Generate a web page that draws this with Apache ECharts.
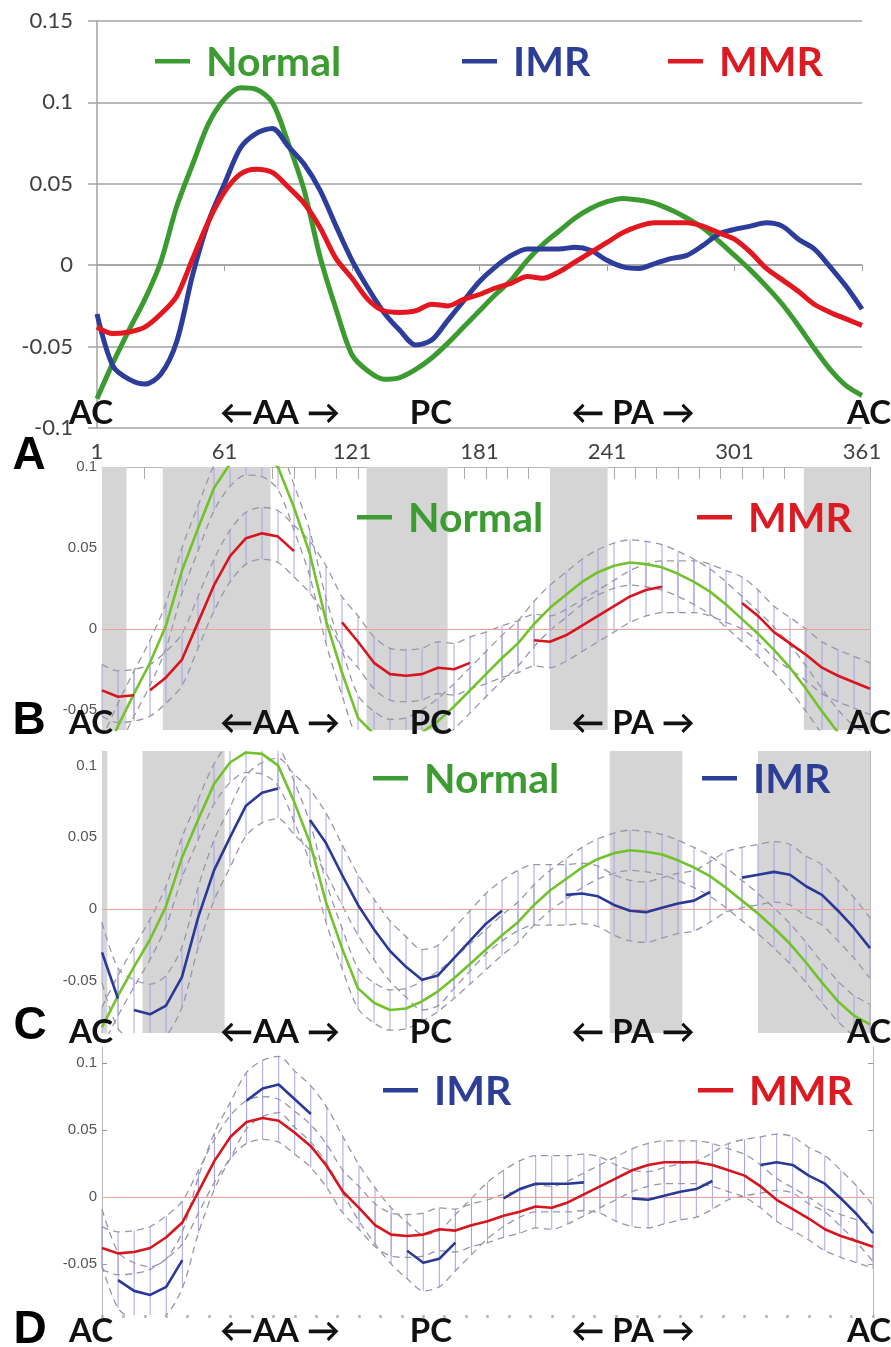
<!DOCTYPE html>
<html>
<head>
<meta charset="utf-8">
<title>Normal / IMR / MMR</title>
<script src="https://cdn.jsdelivr.net/npm/echarts@6/dist/echarts.min.js"></script>
<style>
  html, body { margin: 0; padding: 0; background: #fff; }
  #chart { width: 891px; height: 1347px; }
</style>
</head>
<body>
<div id="chart"></div>
<script>
// 采样位置（1..361）
const xs = [1, 8.5, 16, 23.5, 31, 38.5, 46, 53.5, 61, 68.5, 76, 83.5, 91, 98.5, 106, 113.5,
  121, 128.5, 136, 143.5, 151, 158.5, 166, 173.5, 181, 188.5, 196, 203.5, 211, 218.5, 226,
  233.5, 241, 248.5, 256, 263.5, 271, 278.5, 286, 293.5, 301, 308.5, 316, 323.5, 331, 338.5,
  346, 353.5, 361]

const normal = [-0.082, -0.060, -0.040, -0.021, 0.002, 0.036, 0.062, 0.087, 0.102, 0.109, 0.108,
  0.100, 0.075, 0.046, 0.005, -0.027, -0.055, -0.065, -0.070, -0.069, -0.064, -0.057, -0.048,
  -0.038, -0.028, -0.018, -0.009, 0.003, 0.013, 0.021, 0.029, 0.035, 0.039, 0.041, 0.040, 0.038,
  0.034, 0.029, 0.023, 0.015, 0.006, -0.003, -0.013, -0.024, -0.037, -0.051, -0.064, -0.074, -0.080]

const imr = [-0.030, -0.062, -0.070, -0.073, -0.067, -0.047, -0.006, 0.027, 0.050, 0.072, 0.081,
  0.084, 0.073, 0.062, 0.046, 0.024, 0.003, -0.014, -0.029, -0.040, -0.049, -0.046, -0.034,
  -0.022, -0.010, -0.001, 0.006, 0.010, 0.010, 0.010, 0.011, 0.009, 0.003, -0.001, -0.002, 0.001,
  0.004, 0.006, 0.012, 0.019, 0.022, 0.024, 0.026, 0.024, 0.016, 0.010, -0.001, -0.013, -0.027]

const mmr = [-0.038, -0.042, -0.041, -0.038, -0.030, -0.019, 0.004, 0.027, 0.045, 0.056, 0.059,
  0.057, 0.048, 0.038, 0.023, 0.004, -0.008, -0.021, -0.028, -0.029, -0.028, -0.024, -0.025,
  -0.021, -0.018, -0.014, -0.011, -0.007, -0.008, -0.004, 0.002, 0.008, 0.014, 0.020, 0.024,
  0.026, 0.026, 0.026, 0.024, 0.020, 0.016, 0.008, -0.002, -0.009, -0.016, -0.024, -0.029, -0.033, -0.037]

// 置信带半宽
const normalBand = 0.014
const imrBand = 0.021
const mmrBand = 0.016

// 均值曲线的显示区段
const segB_MMR = [[1, 17], [23, 92], [109, 175], [200, 268], [298, 361]]
const segC_IMR = [[1, 9], [14, 84], [98, 192], [214, 286], [297, 361]]
const segD_IMR = [[6, 42], [68, 101], [143, 167], [185, 230], [247, 289], [307, 361]]

// 灰色阴影区间
const shadeB = [[1, 12.5], [29.5, 80], [125, 163], [211, 238], [330, 361]]
const shadeC = [[1, 3.5], [20, 58.5], [239, 273], [308.5, 361]]

// 刻度
const xLabelsA = [1, 61, 121, 181, 241, 301, 361]
const xTicks = [1, 11, 21, 31, 41, 51, 61, 71, 81, 91, 101, 111, 121, 131, 141, 151, 161, 171, 181,
  191, 201, 211, 221, 231, 241, 251, 261, 271, 281, 291, 301, 311, 321, 331, 341, 351, 361]
const yTicks = [-0.05, 0, 0.05, 0.1]

const regionNames = ['AC', '←AA →', 'PC', '← PA →', 'AC']
const panelLetters = ['A', 'B', 'C', 'D']

const COL = {
  normalA: '#3b9a30', imrA: '#2c3d9b', mmrA: '#e3171f',
  normal: '#72c22c', imr: '#2a3995', mmr: '#d8141c',
  Normal: '#3c9c31', IMR: '#2d3e97', MMR: '#dc1a22'
}
const FONT = "Lato, 'Open Sans', 'DejaVu Sans', sans-serif"
const NARROW = "'Liberation Sans Narrow', 'Liberation Sans', sans-serif"

const pts = (ys) => xs.map((x, i) => [x, ys[i]])
const bound = (ys, w) => xs.map((x, i) => [x, ys[i] + w])
const hatch = (ys, w) => xs.map((x, i) => [x, ys[i] - w, ys[i] + w])
const pieces = (ys, segs) => segs.map(([a, b]) => pts(ys).filter(p => p[0] >= a && p[0] <= b))
const fmt = (v) => String(Math.round(v * 1000) / 1000)

const chart = echarts.init(document.getElementById('chart'))

function hatchItem(params, api) {
  const cs = params.coordSys
  const x = api.value(0)
  const a = api.coord([x, api.value(1)])
  const b = api.coord([x, api.value(2)])
  const top = cs.y, bot = cs.y + cs.height
  const y1 = Math.min(Math.max(a[1], top), bot)
  const y2 = Math.min(Math.max(b[1], top), bot)
  if (y1 === y2) return null
  return {
    type: 'line',
    shape: { x1: a[0], y1: y1, x2: b[0], y2: y2 },
    style: { stroke: '#a4a4ea', lineWidth: 1 }
  }
}

// 阴影和零线挂在一条透明线上
function host(g, ys, shades) {
  const s = {
    type: 'line', xAxisIndex: g, yAxisIndex: g, data: pts(ys), symbol: 'none', silent: true, z: 1,
    lineStyle: { opacity: 0 },
    markLine: {
      silent: true, symbol: 'none', label: { show: false },
      lineStyle: { color: '#f2a29a', type: 'solid', width: 1, opacity: 1 },
      data: [{ yAxis: 0 }]
    }
  }
  if (shades.length) {
    s.markArea = {
      silent: true, itemStyle: { color: '#d5d5d5' },
      data: shades.map(([a, b]) => [{ xAxis: a }, { xAxis: b }])
    }
  }
  return s
}

function dashed(g, data) {
  return {
    type: 'line', xAxisIndex: g, yAxisIndex: g, data, symbol: 'none', silent: true, z: 3,
    smooth: 0.3, lineStyle: { color: '#9797aa', width: 1.3, type: [7, 5] }
  }
}

function bandSet(g, ys, w) {
  return [
    {
      type: 'custom', xAxisIndex: g, yAxisIndex: g, data: hatch(ys, w), renderItem: hatchItem,
      encode: { x: 0, y: [1, 2] }, silent: true, z: 2
    },
    dashed(g, bound(ys, w)),
    dashed(g, bound(ys, -w))
  ]
}

function mean(g, name, data, color) {
  return {
    type: 'line', name, xAxisIndex: g, yAxisIndex: g, data, symbol: 'none', silent: true, z: 5,
    lineStyle: { color, width: 2.6 }
  }
}

function lineA(name, ys, color) {
  return {
    type: 'line', name, xAxisIndex: 0, yAxisIndex: 0, data: pts(ys), symbol: 'none', smooth: 0.3,
    silent: true, z: 5, lineStyle: { color, width: 5 }
  }
}

function sideY(g, min, max, pos) {
  return {
    type: 'value', gridIndex: g, min, max, position: pos,
    axisLine: { show: true, onZero: false, lineStyle: { color: '#b8b8b8', width: 1 } },
    axisTick: { show: true, inside: true, length: 5, customValues: yTicks, lineStyle: { color: '#999' } },
    axisLabel: {
      show: pos === 'left', customValues: yTicks, margin: 5, fontSize: 15, color: '#555',
      fontFamily: NARROW, formatter: fmt
    },
    splitLine: { show: false }
  }
}

const xBase = { type: 'value', min: 1, max: 361, splitLine: { show: false } }

const series = [
  lineA('Normal', normal, COL.normalA),
  lineA('IMR', imr, COL.imrA),
  lineA('MMR', mmr, COL.mmrA),

  host(1, mmr, shadeB),
  ...bandSet(1, normal, normalBand),
  ...bandSet(1, mmr, mmrBand),
  mean(1, 'Normal', pts(normal), COL.normal),
  ...pieces(mmr, segB_MMR).map(d => mean(1, 'MMR', d, COL.mmr)),

  host(2, imr, shadeC),
  ...bandSet(2, normal, normalBand),
  ...bandSet(2, imr, imrBand),
  mean(2, 'Normal', pts(normal), COL.normal),
  ...pieces(imr, segC_IMR).map(d => mean(2, 'IMR', d, COL.imr)),

  host(3, mmr, []),
  ...bandSet(3, imr, imrBand),
  ...bandSet(3, mmr, mmrBand),
  mean(3, 'MMR', pts(mmr), COL.mmr),
  ...pieces(imr, segD_IMR).map(d => mean(3, 'IMR', d, COL.imr))
]

// 文字
const graphic = []
function text(x, y, str, size, color, family, align) {
  graphic.push({
    type: 'text', x, y, silent: true, z: 10,
    style: {
      text: str, fill: color, font: 'bold ' + size + 'px ' + family,
      textAlign: align || 'center', textVerticalAlign: 'middle'
    }
  })
}
function key(x, y, name) {
  graphic.push({ type: 'rect', silent: true, z: 10, shape: { x, y: y - 2, width: 35, height: 4.5 }, style: { fill: COL[name] } })
  text(x + 51, y + 2, name, 41, COL[name], FONT, 'left')
}

key(155, 61, 'Normal'); key(462, 61, 'IMR'); key(668, 61, 'MMR')
key(357, 517, 'Normal'); key(697, 517, 'MMR')
key(373, 778, 'Normal'); key(702, 778, 'IMR')
key(383, 1090, 'IMR'); key(698, 1090, 'MMR')

const regionX = [91, 280, 431, 633, 869]
const regionY = [412, 722, 1031, 1330]
regionY.forEach(y => regionNames.forEach((t, i) => text(regionX[i], y + 1, t, 33, '#111', FONT)))

const letterPos = [[29, 456], [29, 721], [30, 1026], [30, 1330]]
panelLetters.forEach((t, i) => text(letterPos[i][0], letterPos[i][1], t, 46, '#000', "'Liberation Sans', Arial, sans-serif"))

chart.setOption({
  animation: false,
  backgroundColor: '#fff',
  grid: [
    { left: 97, top: 21, width: 765, height: 407 },
    { left: 102, top: 467, width: 768, height: 263 },
    { left: 102, top: 751, width: 768, height: 282 },
    { left: 102, top: 1047, width: 771, height: 268 }
  ],
  xAxis: [
    {
      ...xBase, gridIndex: 0, position: 'bottom',
      axisLine: { show: false, onZero: false }, axisTick: { show: false },
      axisLabel: { customValues: xLabelsA, margin: 13, fontSize: 22, color: '#404040', fontFamily: FONT }
    },
    {
      ...xBase, gridIndex: 1, position: 'top',
      axisLine: { show: true, onZero: false, lineStyle: { color: '#b8b8b8' } },
      axisTick: { show: true, inside: true, length: 12, customValues: xTicks, lineStyle: { color: '#aaa' } },
      axisLabel: { show: false }
    },
    {
      ...xBase, gridIndex: 2, position: 'bottom',
      axisLine: { show: false, onZero: false }, axisTick: { show: false }, axisLabel: { show: false }
    },
    {
      ...xBase, gridIndex: 3, position: 'bottom',
      axisLine: { show: false, onZero: false },
      axisTick: { show: true, inside: false, length: 3, customValues: xTicks, lineStyle: { color: '#b4b4b4', width: 2.5 } },
      axisLabel: { show: false }
    },
    {
      ...xBase, gridIndex: 0, position: 'top',
      axisLine: { show: true, onZero: true, lineStyle: { color: '#a3a3a3', width: 1.5 } },
      axisTick: { show: true, inside: true, length: 6, customValues: xLabelsA.slice(1), lineStyle: { color: '#a3a3a3' } },
      axisLabel: { show: false }
    }
  ],
  yAxis: [
    {
      type: 'value', gridIndex: 0, min: -0.1, max: 0.15, interval: 0.05,
      axisLine: { show: true, onZero: false, lineStyle: { color: '#a3a3a3', width: 1.5 } },
      axisTick: { show: true, length: 9, lineStyle: { color: '#a3a3a3', width: 1.5 } },
      axisLabel: { margin: 24, fontSize: 22, color: '#404040', fontFamily: FONT, formatter: fmt },
      splitLine: { show: true, lineStyle: { color: '#a3a3a3', width: 1.5 } }
    },
    sideY(1, -0.0625, 0.1, 'left'),
    sideY(2, -0.086, 0.11, 'left'),
    sideY(3, -0.088, 0.112, 'left'),
    sideY(1, -0.0625, 0.1, 'right'),
    sideY(2, -0.086, 0.11, 'right'),
    sideY(3, -0.088, 0.112, 'right')
  ],
  graphic,
  series
})

window.addEventListener('resize', () => chart.resize())
</script>
</body>
</html>
